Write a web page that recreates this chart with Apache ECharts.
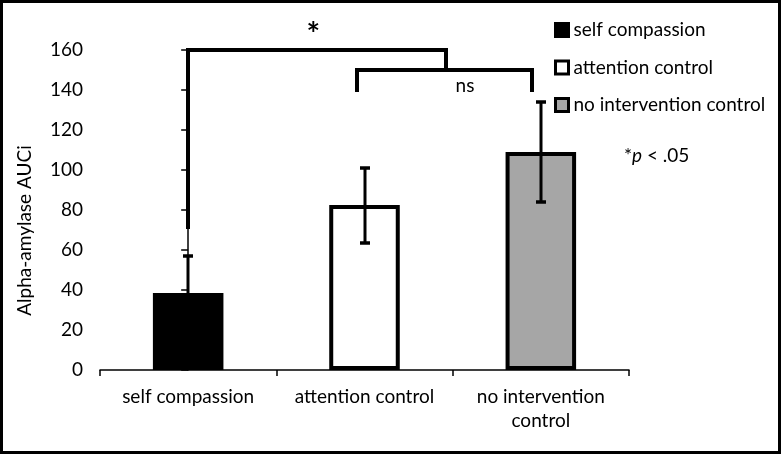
<!DOCTYPE html>
<html>
<head>
<meta charset="utf-8">
<script src="https://cdn.jsdelivr.net/npm/echarts@6/dist/echarts.min.js"></script>
<style>
  html, body { margin: 0; padding: 0; background: #fff; }
  #chart {
    width: 781px;
    height: 454px;
    box-sizing: border-box;
    border: 3px solid #000;
  }
</style>
</head>
<body>
<div id="chart"></div>
<script>
// groups and values
const groups = ['self compassion', 'attention control', 'no intervention\ncontrol'];
const legendNames = ['self compassion', 'attention control', 'no intervention control'];
const means = [38.5, 82.5, 109];
const errLow = [18.5, 19, 25];
const errHigh = [18.5, 18.5, 25];
const fills = ['#000000', '#ffffff', '#a6a6a6'];
const yTicks = { min: 0, max: 160, interval: 20 };

// significance brackets, x in group index units, y in data units
const sigBracket = [[0, 71.5], [0, 160], [1.46, 160], [1.46, 150]];
const nsBracket = [[0.96, 140], [0.96, 150], [1.95, 150], [1.95, 140]];
const bracketLabels = [
  { x: 0.71, y: 167, text: '*', size: 32, weight: 'bold' },
  { x: 1.57, y: 142, text: 'ns', size: 19, weight: 'normal' }
];

const FONT = 'Lato, "Open Sans", sans-serif';
const FS = 19;

const chart = echarts.init(document.getElementById('chart'));

const barSeries = legendNames.map((name, i) => ({
  name,
  type: 'bar',
  barWidth: '40%',
  barGap: '-100%',
  data: means.map((v, j) => (j === i ? v : '-')),
  itemStyle: { color: fills[i], borderColor: '#000', borderWidth: 4 },
  z: 2
}));

// snap to whole pixels so thick strokes stay crisp
const snap = p => [Math.round(p[0]), Math.round(p[1])];

chart.setOption({
  animation: false,
  textStyle: { fontFamily: FONT },
  grid: { left: 97, right: 149, top: 47, bottom: 81 },
  legend: {
    data: legendNames.map(n => ({ name: n, icon: 'rect' })),
    orient: 'vertical',
    left: 546,
    top: 11,
    itemWidth: 13,
    itemHeight: 13,
    itemGap: 15.5,
    selectedMode: false,
    itemStyle: { borderColor: '#000', borderWidth: 3 },
    textStyle: { fontSize: FS, color: '#000', fontFamily: FONT, lineHeight: 22 }
  },
  xAxis: [
    {
      type: 'category',
      data: groups,
      axisLine: { lineStyle: { color: '#000', width: 1.5 } },
      axisTick: { show: true, length: 6, lineStyle: { color: '#000', width: 1.5 } },
      axisLabel: { color: '#000', fontSize: FS, margin: 15, lineHeight: 24, interval: 0 }
    },
    {
      type: 'value',
      min: -0.5,
      max: 2.5,
      show: false
    }
  ],
  yAxis: {
    type: 'value',
    min: yTicks.min,
    max: yTicks.max,
    interval: yTicks.interval,
    axisLine: { show: true, lineStyle: { color: '#000', width: 1.5 } },
    axisTick: { show: true, length: 7, lineStyle: { color: '#000', width: 1.5 } },
    axisLabel: { color: '#000', fontSize: FS, margin: 17 },
    splitLine: { show: false }
  },
  graphic: [
    {
      type: 'text',
      x: 22,
      y: 227.5,
      rotation: Math.PI / 2,
      style: {
        text: 'Alpha-amylase AUCi',
        fontSize: FS,
        fontFamily: FONT,
        fill: '#000',
        align: 'center',
        verticalAlign: 'middle'
      }
    },
    {
      type: 'text',
      left: 621,
      top: 143,
      style: {
        text: '{a|*}{b|p}{a| < .05}',
        rich: {
          a: { fontSize: FS, fontFamily: FONT, fill: '#000' },
          b: { fontSize: FS, fontFamily: FONT, fontStyle: 'italic', fill: '#000' }
        }
      }
    }
  ],
  series: [
    ...barSeries,
    {
      type: 'custom',
      name: 'error',
      xAxisIndex: 0,
      z: 5,
      data: means.map((m, i) => [i, m - errLow[i], m + errHigh[i]]),
      renderItem: (params, api) => {
        const lo = snap(api.coord([api.value(0), api.value(1)]));
        const hi = snap(api.coord([api.value(0), api.value(2)]));
        const cap = 5;
        const capStyle = { stroke: '#000', lineWidth: 3.5 };
        return {
          type: 'group',
          children: [
            { type: 'line', shape: { x1: hi[0], y1: hi[1], x2: lo[0], y2: lo[1] }, style: { stroke: '#000', lineWidth: 3 } },
            { type: 'line', shape: { x1: hi[0] - cap, y1: hi[1], x2: hi[0] + cap, y2: hi[1] }, style: capStyle },
            { type: 'line', shape: { x1: lo[0] - cap, y1: lo[1], x2: lo[0] + cap, y2: lo[1] }, style: capStyle }
          ]
        };
      }
    },
    {
      type: 'custom',
      name: 'brackets',
      xAxisIndex: 1,
      z: 6,
      clip: false,
      data: [0, 1],
      renderItem: (params, api) => {
        const pts = (params.dataIndex === 0 ? sigBracket : nsBracket).map(p => snap(api.coord(p)));
        const children = [];
        for (let k = 0; k < pts.length - 1; k++) {
          children.push({
            type: 'line',
            shape: { x1: pts[k][0], y1: pts[k][1], x2: pts[k + 1][0], y2: pts[k + 1][1] },
            style: { stroke: '#000', lineWidth: 4, lineCap: 'square' }
          });
        }
        const lb = bracketLabels[params.dataIndex];
        const c = api.coord([lb.x, lb.y]);
        children.push({
          type: 'text',
          x: c[0],
          y: c[1],
          style: {
            text: lb.text,
            fontSize: lb.size,
            fontWeight: lb.weight,
            fontFamily: FONT,
            fill: '#000',
            align: 'center',
            verticalAlign: 'middle'
          }
        });
        return { type: 'group', children };
      }
    }
  ]
});
</script>
</body>
</html>
